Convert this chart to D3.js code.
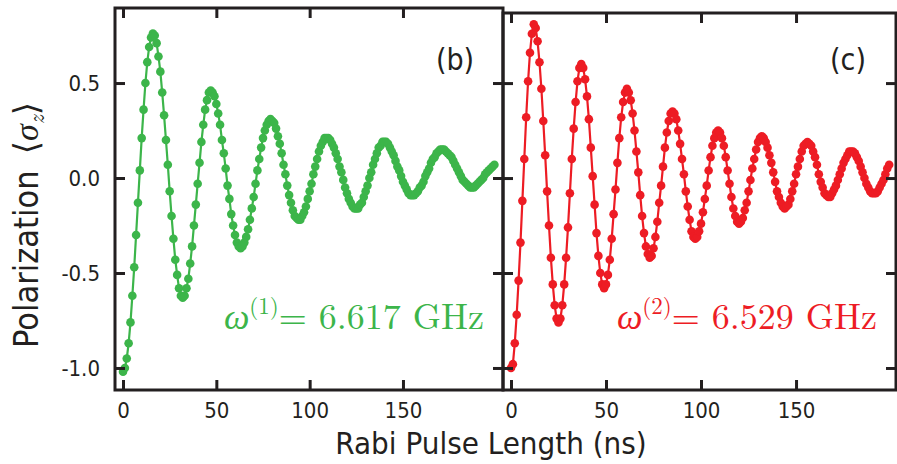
<!DOCTYPE html>
<html>
<head>
<meta charset="utf-8">
<script src="https://cdn.jsdelivr.net/npm/d3@7"></script>
<style>
  body { margin: 0; background: #fff; }
  .sans { font-family: "Liberation Sans Narrow", "DejaVu Sans Condensed", "Open Sans", sans-serif; }
  .serif { font-family: "Latin Modern Roman", "Liberation Serif", "DejaVu Serif", serif; }
</style>
</head>
<body>
<svg id="chart" width="897" height="464"></svg>
<script>
// Rabi oscillations of the two qubits, sampled every 1 ns (index = pulse length in ns)
const xTicks = [0, 50, 100, 150];
const yTicks = [0.5, 0.0, -0.5, -1.0];
const panelLabels = ["(b)", "(c)"];
const freqLabels = ["6.617 GHz", "6.529 GHz"];
const superscripts = ["(1)", "(2)"];
const colors = ["#3cb54a", "#ed1c24"];

// Qubit 1 polarization <sigma_z>
const polarization1 = [
  -1.02, -1.00, -0.95, -0.87, -0.76, -0.62, -0.47, -0.30, -0.13, 0.04,
   0.21,  0.36,  0.50,  0.61,  0.69,  0.74,  0.76,  0.75,  0.71, 0.64,
   0.56,  0.45,  0.33,  0.20,  0.07, -0.07, -0.20, -0.32, -0.43, -0.51,
  -0.58, -0.62, -0.63, -0.62, -0.58, -0.53, -0.45, -0.36, -0.25, -0.14,
  -0.03,  0.08,  0.19,  0.28,  0.36,  0.41,  0.45,  0.46,  0.45, 0.43,
   0.39,  0.34,  0.28,  0.20,  0.13,  0.05, -0.04, -0.11, -0.19, -0.25,
  -0.30, -0.34, -0.36, -0.37, -0.36, -0.34, -0.31, -0.27, -0.22, -0.16,
  -0.10, -0.03,  0.04,  0.10,  0.16,  0.21,  0.25,  0.28,  0.30, 0.31,
   0.30,  0.29,  0.26,  0.22,  0.18,  0.13,  0.07,  0.02, -0.04, -0.09,
  -0.13, -0.17, -0.20, -0.21, -0.22, -0.22, -0.20, -0.18, -0.15, -0.11,
  -0.07, -0.03,  0.02,  0.06,  0.10,  0.14,  0.17,  0.19,  0.21, 0.21,
   0.21,  0.20,  0.18,  0.16,  0.13,  0.10,  0.06,  0.03, -0.01, -0.05,
  -0.08, -0.11, -0.13, -0.15, -0.16, -0.16, -0.16, -0.14, -0.13, -0.10,
  -0.07, -0.04,  0.00,  0.03,  0.07,  0.10,  0.13,  0.16,  0.17, 0.19,
   0.19,  0.19,  0.18,  0.16,  0.14,  0.12,  0.09,  0.06,  0.04, 0.01,
  -0.02, -0.04, -0.06, -0.08, -0.09, -0.09, -0.09, -0.08, -0.07, -0.05,
  -0.04, -0.02,  0.01,  0.03,  0.05,  0.08,  0.10,  0.11,  0.13, 0.14,
   0.15,  0.15,  0.15,  0.14,  0.13,  0.12,  0.11,  0.09,  0.07, 0.05,
   0.03,  0.01, -0.01, -0.02, -0.03, -0.04, -0.05, -0.05, -0.05, -0.04,
  -0.03, -0.02, -0.01,  0.00,  0.02,  0.03,  0.04,  0.05,  0.06, 0.07
];

// Qubit 2 polarization <sigma_z>
const polarization2 = [
  -1.00, -0.98, -0.87, -0.72, -0.54, -0.34, -0.12,  0.10,  0.32, 0.51,
   0.66,  0.76,  0.81,  0.79,  0.72,  0.61,  0.47,  0.30,  0.12, -0.07,
  -0.25, -0.42, -0.56, -0.67, -0.74, -0.76, -0.74, -0.67, -0.56, -0.42,
  -0.26, -0.08,  0.10,  0.26,  0.40,  0.51,  0.58,  0.60,  0.58, 0.52,
   0.43,  0.31,  0.16,  0.01, -0.14, -0.29, -0.41, -0.50, -0.56, -0.58,
  -0.56, -0.51, -0.43, -0.32, -0.19, -0.06,  0.08,  0.21,  0.32, 0.40,
   0.45,  0.47,  0.45,  0.41,  0.34,  0.25,  0.14,  0.03, -0.09, -0.20,
  -0.29, -0.36, -0.40, -0.42, -0.41, -0.37, -0.31, -0.23, -0.13, -0.04,
   0.06,  0.16,  0.24,  0.30,  0.34,  0.35,  0.34,  0.31,  0.25, 0.18,
   0.10,  0.02, -0.07, -0.15, -0.22, -0.28, -0.31, -0.32, -0.31, -0.28,
  -0.24, -0.18, -0.11, -0.04,  0.04,  0.11,  0.17,  0.21,  0.24, 0.25,
   0.24,  0.21,  0.17,  0.11,  0.04, -0.03, -0.10, -0.16, -0.20, -0.23,
  -0.24, -0.23, -0.21, -0.17, -0.13, -0.07, -0.01,  0.05,  0.10, 0.15,
   0.19,  0.21,  0.22,  0.21,  0.19,  0.16,  0.12,  0.08,  0.03, -0.02,
  -0.07, -0.10, -0.13, -0.15, -0.16, -0.15, -0.14, -0.11, -0.07, -0.03,
   0.02,  0.06,  0.10,  0.14,  0.17,  0.18,  0.19,  0.18,  0.17, 0.14,
   0.11,  0.07,  0.02, -0.02, -0.05, -0.08, -0.09, -0.10, -0.10, -0.08,
  -0.06, -0.04, -0.01,  0.02,  0.05,  0.08,  0.10,  0.12,  0.14, 0.14,
   0.14,  0.13,  0.11,  0.09,  0.06,  0.03,  0.00, -0.03, -0.05, -0.07,
  -0.08, -0.08, -0.08, -0.07, -0.05, -0.03, -0.01,  0.02,  0.05, 0.07
];

const seriesList = [polarization1, polarization2];

const svg = d3.select("#chart");
const ink = "#231f20";

// panel geometry: pixel extents and the x / y domains each spans
const panels = [
  { x: d3.scaleLinear().domain([-4.3, 203.6]).range([115, 503]),
    y: d3.scaleLinear().domain([0.895, -1.116]).range([8, 390]), yLabels: true },
  { x: d3.scaleLinear().domain([-4.2, 202.6]).range([503, 896]),
    y: d3.scaleLinear().domain([0.869, -1.116]).range([13, 390]), yLabels: false }
];

const fmtY = d => d3.format(".1f")(d).replace("\u2212", "-");

panels.forEach((p, k) => {
  const g = svg.append("g");
  const [x0, x1] = p.x.range();
  const [yTop, yBot] = p.y.range();
  const data = seriesList[k];

  // data: connecting line, then markers
  const line = d3.line().x((d, i) => p.x(i)).y(d => p.y(d));
  g.append("path").datum(data)
    .attr("d", line).attr("fill", "none")
    .attr("stroke", colors[k]).attr("stroke-width", 2.2);
  g.selectAll("circle").data(data).join("circle")
    .attr("cx", (d, i) => p.x(i)).attr("cy", d => p.y(d))
    .attr("r", 4.3).attr("fill", colors[k]);

  // mirrored inward ticks on all four sides
  const tickLen = -10;
  const styleAxis = sel => {
    sel.select(".domain").remove();
    sel.selectAll(".tick line").attr("stroke", ink).attr("stroke-width", 3);
    sel.selectAll(".tick text").attr("fill", ink).attr("class", "sans").attr("font-size", 22);
  };
  g.append("g").attr("transform", `translate(0,${yBot})`)
    .call(d3.axisBottom(p.x).tickValues(xTicks).tickSize(tickLen).tickPadding(12).tickFormat(d3.format("d")))
    .call(styleAxis);
  g.append("g").attr("transform", `translate(0,${yTop})`)
    .call(d3.axisTop(p.x).tickValues(xTicks).tickSize(tickLen).tickFormat(""))
    .call(styleAxis);
  g.append("g").attr("transform", `translate(${x0},0)`)
    .call(d3.axisLeft(p.y).tickValues(yTicks).tickSize(tickLen).tickPadding(15)
      .tickFormat(p.yLabels ? fmtY : ""))
    .call(styleAxis);
  g.append("g").attr("transform", `translate(${x1},0)`)
    .call(d3.axisRight(p.y).tickValues(yTicks).tickSize(tickLen).tickFormat(""))
    .call(styleAxis);

  // frame
  g.append("rect").attr("x", x0).attr("y", yTop)
    .attr("width", x1 - x0).attr("height", yBot - yTop)
    .attr("fill", "none").attr("stroke", ink).attr("stroke-width", 3);

  // panel tag
  g.append("text").attr("class", "sans").attr("x", x1 - 48).attr("y", 70)
    .attr("text-anchor", "middle").attr("font-size", 30).attr("fill", ink)
    .text(panelLabels[k]);

  // drive frequency
  const t = g.append("text").attr("class", "serif")
    .attr("x", x1 - 19).attr("y", 329).attr("text-anchor", "end")
    .attr("font-size", 36).attr("fill", colors[k]);
  t.append("tspan").attr("font-style", "italic").text("\u03C9");
  t.append("tspan").attr("font-size", 23).attr("dy", -15).text(superscripts[k]);
  t.append("tspan").attr("dy", 15).text("= " + freqLabels[k]);
});

// axis titles
svg.append("text").attr("class", "sans")
  .attr("x", 491).attr("y", 454).attr("text-anchor", "middle")
  .attr("font-size", 31).attr("fill", ink)
  .text("Rabi Pulse Length (ns)");

const yt = svg.append("text")
  .attr("transform", "translate(38,225) rotate(-90)")
  .attr("text-anchor", "middle").attr("fill", ink);
yt.append("tspan").attr("class", "sans").attr("font-size", 34).text("Polarization");
yt.append("tspan").attr("class", "serif").attr("font-size", 34).attr("dx", 16).text("\u27E8");
yt.append("tspan").attr("class", "serif").attr("font-size", 34).attr("font-style", "italic").text("\u03C3");
yt.append("tspan").attr("class", "serif").attr("font-size", 22).attr("font-style", "italic").attr("dy", 6).text("z");
yt.append("tspan").attr("class", "serif").attr("font-size", 34).attr("dy", -6).text("\u27E9");
</script>
</body>
</html>
